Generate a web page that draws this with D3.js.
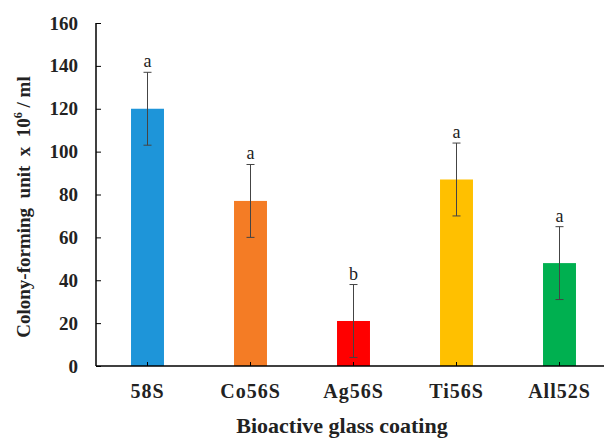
<!DOCTYPE html>
<html>
<head>
<meta charset="utf-8">
<script src="https://cdn.jsdelivr.net/npm/d3@7"></script>
<style>
  body { margin: 0; background: #fff; }
  text { font-family: "Liberation Serif", "Times New Roman", serif; }
</style>
</head>
<body>
<div id="chart"></div>
<script>
// data
const categories = ["58S", "Co56S", "Ag56S", "Ti56S", "All52S"];
const means = [120, 77, 21, 87, 48];
const errors = [17, 17, 17, 17, 17];
const letters = ["a", "a", "b", "a", "a"];
const barColors = ["#1e95d9", "#f47c25", "#ff0000", "#ffc000", "#00b050"];
const yTicks = [0, 20, 40, 60, 80, 100, 120, 140, 160];

const width = 604, height = 438;
const margin = { top: 23, right: -7, bottom: 72, left: 96 };

const svg = d3.select("#chart").append("svg")
  .attr("width", width)
  .attr("height", height);

const x = d3.scaleBand()
  .domain(categories)
  .range([margin.left, width - margin.right])
  .paddingInner(0.68)
  .paddingOuter(0.34);

const y = d3.scaleLinear()
  .domain([0, 160])
  .range([height - margin.bottom, margin.top]);

// bars
svg.append("g")
  .selectAll("rect")
  .data(categories)
  .join("rect")
  .attr("x", d => x(d))
  .attr("width", x.bandwidth())
  .attr("y", (d, i) => y(means[i]))
  .attr("height", (d, i) => y(0) - y(means[i]))
  .attr("fill", (d, i) => barColors[i]);

// error bars + significance letters
const err = svg.append("g")
  .attr("stroke", "#444")
  .attr("stroke-width", 1);

categories.forEach((c, i) => {
  const cx = x(c) + x.bandwidth() / 2;
  const top = y(means[i] + errors[i]);
  const bot = y(means[i] - errors[i]);
  err.append("line").attr("x1", cx).attr("x2", cx).attr("y1", top).attr("y2", bot);
  err.append("line").attr("x1", cx - 4).attr("x2", cx + 4).attr("y1", top).attr("y2", top);
  err.append("line").attr("x1", cx - 4).attr("x2", cx + 4).attr("y1", bot).attr("y2", bot);
  svg.append("text")
    .attr("x", cx)
    .attr("y", top - 5)
    .attr("text-anchor", "middle")
    .attr("font-size", 18)
    .attr("fill", "#222")
    .text(letters[i]);
});

// y axis (ticks inside)
const yAxis = svg.append("g")
  .attr("transform", `translate(${margin.left},0)`)
  .call(d3.axisRight(y).tickValues(yTicks).tickSize(5).tickFormat(d3.format("d")));
yAxis.selectAll("text")
  .attr("x", -18)
  .attr("text-anchor", "end")
  .attr("font-size", 19)
  .attr("font-weight", "bold")
  .attr("fill", "#222")
  .attr("font-family", "Liberation Serif");
yAxis.selectAll("line").attr("stroke", "#000");
yAxis.select(".domain").attr("d", `M0,${y(160)}V${y(0)}`).attr("stroke", "#000").attr("stroke-width", 1.5);

// x axis (ticks inside)
const xAxis = svg.append("g")
  .attr("transform", `translate(0,${y(0)})`)
  .call(d3.axisTop(x).tickSize(4));
xAxis.selectAll("text")
  .attr("y", 32)
  .attr("font-size", 20)
  .attr("font-weight", "bold")
  .attr("letter-spacing", 1)
  .attr("fill", "#222")
  .attr("font-family", "Liberation Serif");
xAxis.selectAll("line").attr("stroke", "#000");
xAxis.select(".domain").attr("d", `M${margin.left},0H${width}`).attr("stroke", "#000").attr("stroke-width", 1.5);

// axis titles
svg.append("text")
  .attr("x", 342)
  .attr("y", 433)
  .attr("text-anchor", "middle")
  .attr("font-size", 22)
  .attr("font-weight", "bold")
  .attr("fill", "#222")
  .text("Bioactive glass coating");

const yl = svg.append("text")
  .attr("transform", `translate(30,207) rotate(-90)`)
  .attr("text-anchor", "middle")
  .attr("font-size", 19)
  .attr("font-weight", "bold")
  .attr("fill", "#222")
  .style("white-space", "pre");
yl.append("tspan").text("Colony-forming  unit  x  10");
yl.append("tspan").attr("font-size", 12).attr("dy", -8).text("6");
yl.append("tspan").attr("dy", 8).text(" / ml");
</script>
</body>
</html>
